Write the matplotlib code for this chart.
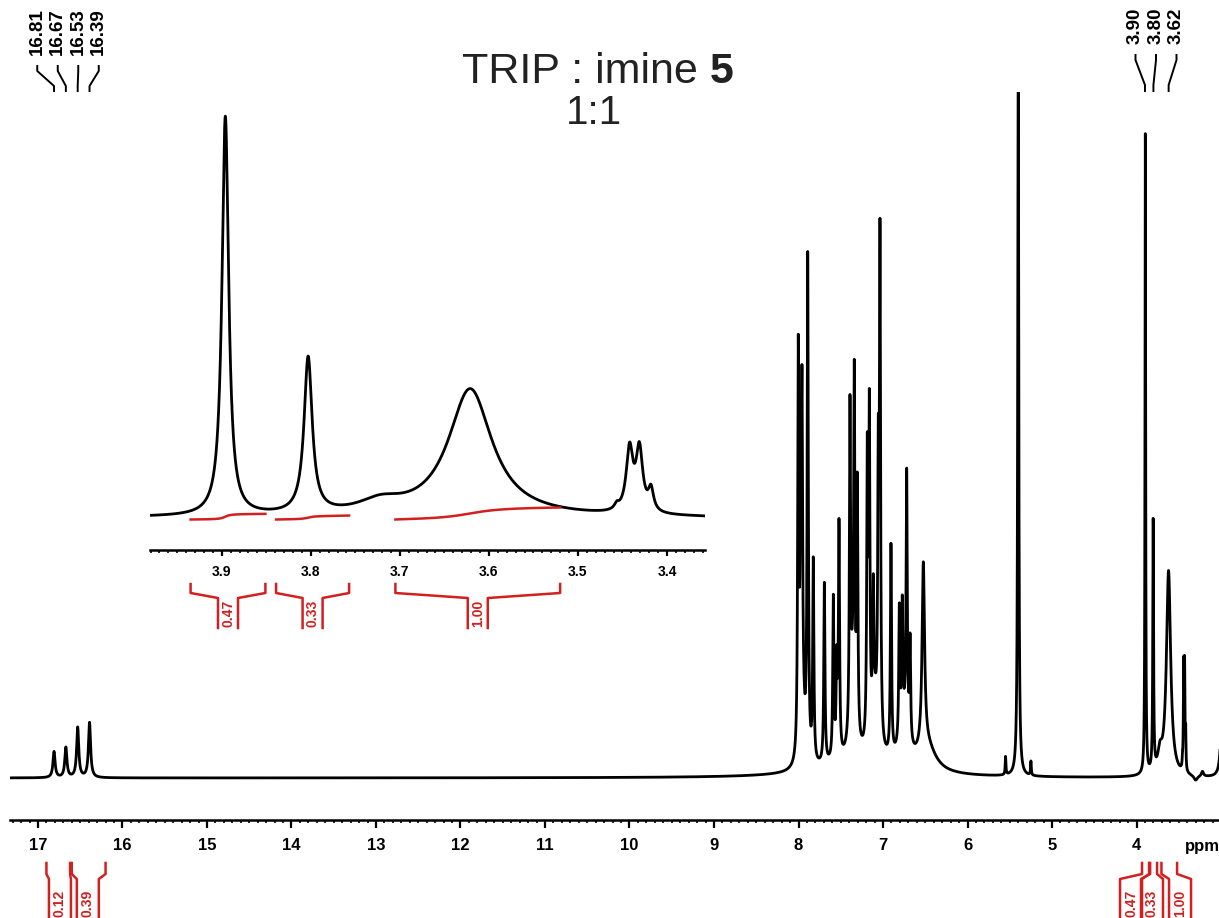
import numpy as np
import matplotlib
matplotlib.use("Agg")
import matplotlib.pyplot as plt
from matplotlib.lines import Line2D
from matplotlib.transforms import IdentityTransform
from matplotlib.ticker import MultipleLocator, FormatStrFormatter

plt.rcParams["font.family"] = ["Liberation Sans", "DejaVu Sans"]

W, H = 1219, 918
RED = "#d21f1f"

# 1H lines: shift (ppm), height (px over baseline), FWHM (ppm)
peak_ppm = [16.81, 16.67, 16.53, 16.39,
            8.003, 7.974, 7.959, 7.891, 7.825, 7.694, 7.588, 7.548, 7.521,
            7.391, 7.340, 7.304, 7.186, 7.162, 7.115, 7.056, 7.036,
            6.906, 6.807, 6.772, 6.720, 6.680, 6.523,
            7.95, 7.36, 7.10, 6.75, 7.30, 6.48,
            5.55, 5.40, 5.25,
            3.896, 3.803, 3.722, 3.621, 3.4565, 3.442, 3.431, 3.418,
            3.30, 3.22, 2.99]
peak_height = [26, 30, 50, 55,
               400, 230, 290, 500, 200, 180, 160, 90, 230,
               320, 330, 250, 280, 320, 120, 250, 490,
               210, 130, 120, 255, 100, 185,
               50, 70, 50, 40, 15, 25,
               18, 760, 14,
               640, 250, 19, 205, 8, 100, 100, 35,
               -5, 5, 60]
peak_fwhm = [0.03, 0.03, 0.03, 0.03,
             0.016, 0.016, 0.016, 0.016, 0.016, 0.016, 0.016, 0.016, 0.016,
             0.016, 0.016, 0.016, 0.016, 0.016, 0.016, 0.016, 0.016,
             0.016, 0.016, 0.016, 0.016, 0.016, 0.035,
             0.05, 0.06, 0.08, 0.12, 1.0, 0.25,
             0.01, 0.014, 0.01,
             0.009, 0.011, 0.06, 0.06, 0.006, 0.009, 0.009, 0.007,
             0.05, 0.03, 0.04]

# peak picking labels
left_labels = ["16.81", "16.67", "16.53", "16.39"]
right_labels = ["3.90", "3.80", "3.62"]

# integrals (ppm range and value)
int_start = [16.90, 16.60, 3.935, 3.839, 3.705]
int_end = [16.62, 16.20, 3.851, 3.757, 3.520]
int_value = [0.12, 0.39, 0.47, 0.33, 1.00]
int_label_ppm = [16.74, 16.41, 4.065, 3.817, 3.485]

inset_scale = 401 / 643


def lorentz(x, x0, h, w):
    g = 0.5 * w
    return h * g * g / ((x - x0) ** 2 + g * g)


def spectrum(x):
    y = np.zeros_like(x)
    for p, h, w in zip(peak_ppm, peak_height, peak_fwhm):
        y += lorentz(x, p, h, w)
    return y


def px(ax, p):
    return ax.transData.transform((p, 0))[0]


def pline(xs, ys, **kw):
    fig.add_artist(Line2D(xs, [H - y for y in ys], transform=IdentityTransform(), **kw))


def ptext(x, y, s, **kw):
    return fig.text(x, H - y, s, transform=IdentityTransform(), **kw)


def bracket(x_hi, x_lo, xc, half, ys, text, fs, ty):
    y_top, y_bend, y_inner, y_bot = ys
    for xe, xi in ((x_hi, xc - half), (x_lo, xc + half)):
        pline([xe, xe, xi, xi], [y_top, y_bend, y_inner, y_bot], color=RED, lw=1.8,
              solid_joinstyle="round")
    ptext(xc, ty, "%.2f" % text, rotation=90, ha="center", va="center", color=RED,
          fontsize=fs, fontweight="bold")


fig = plt.figure(figsize=(W / 100, H / 100), dpi=100)

# main spectrum
ax = fig.add_axes([10 / W, 1 - 820 / H, 1 - 10 / W, (820 - 92) / H])
x = np.linspace(17.4, 2.95, 30000)
ax.plot(x, spectrum(x), color="k", lw=2.0)
ax.set_xlim(17.331, 3.024)
ax.set_ylim(-42, 686)
for s in ("left", "right", "top"):
    ax.spines[s].set_visible(False)
ax.spines["bottom"].set_linewidth(1.8)
ax.set_yticks([])
ax.xaxis.set_major_locator(MultipleLocator(1))
ax.xaxis.set_minor_locator(MultipleLocator(0.1))
ax.xaxis.set_major_formatter(FormatStrFormatter("%d"))
ax.tick_params(axis="x", which="major", length=6, width=1.6, pad=7, labelsize=12)
ax.tick_params(axis="x", which="minor", length=2.2, width=1.2)
for lab in ax.get_xticklabels():
    lab.set_fontweight("bold")
ptext(1202, 846, "ppm", ha="center", va="center", fontsize=12, fontweight="bold")

# inset 3.98 - 3.36 ppm
ins = fig.add_axes([150 / W, 1 - 550 / H, 555 / W, (550 - 110) / H])
ins.set_facecolor("none")
xi = np.linspace(3.99, 3.35, 8000)
ins.plot(xi, spectrum(xi), color="k", lw=2.0)
ins.set_xlim(3.9806, 3.3573)
ins.set_ylim(-32 / inset_scale, 408 / inset_scale)
for s in ("left", "right", "top"):
    ins.spines[s].set_visible(False)
ins.spines["bottom"].set_linewidth(1.8)
ins.set_yticks([])
ins.xaxis.set_major_locator(MultipleLocator(0.1))
ins.xaxis.set_minor_locator(MultipleLocator(0.01))
ins.xaxis.set_major_formatter(FormatStrFormatter("%.1f"))
ins.tick_params(axis="x", which="major", length=4.5, width=1.6, pad=6, labelsize=10)
ins.tick_params(axis="x", which="minor", length=2, width=1.2)
for lab in ins.get_xticklabels():
    lab.set_fontweight("bold")

# integral curves inside the inset
for a, b, v in zip(int_start[2:], int_end[2:], int_value[2:]):
    xr = np.linspace(a, b, 400)
    cum = np.cumsum(spectrum(xr))
    cum = cum / cum[-1]
    ins.plot(xr, (-1.5 + 12 * v * cum) / inset_scale, color=RED, lw=1.8)

fig.canvas.draw()

# integral brackets below the inset axis
for a, b, v in zip(int_start[2:], int_end[2:], int_value[2:]):
    xa, xb = px(ins, a), px(ins, b)
    bracket(xa, xb, 0.5 * (xa + xb), 10, (584, 593, 598, 628), v, 10, 613)

# integral brackets below the main axis
for a, b, v, c in zip(int_start, int_end, int_value, int_label_ppm):
    bracket(px(ax, a), px(ax, b), px(ax, c), 11, (863, 874, 879, 940), v, 10, 903)

# peak labels with leader lines
groups = [(left_labels, 68, (66, 71, 86, 91)), (right_labels, 1156, (55, 60, 85, 91))]
for labels, c, ly in groups:
    pk = [px(ax, float(s)) for s in labels]
    n = len(labels)
    for i, s in enumerate(labels):
        lx = c + (i - (n - 1) / 2) * 20.5
        ptext(lx, 8, s, rotation=90, ha="center", va="top", fontsize=13.5,
              fontweight="bold")
        pline([lx, lx, pk[i], pk[i]], list(ly), color="k", lw=1.4)

# title
t = ptext(462, 83, "TRIP : imine", fontsize=31, ha="left", va="baseline",
          color="#222222")
ax.annotate("5", xy=(1, 0), xycoords=t, xytext=(8.6, 0), textcoords="offset points",
            ha="left", va="bottom", fontsize=31, fontweight="bold", color="#222222",
            annotation_clip=False)
ptext(594, 124, "1:1", fontsize=29, ha="center", va="baseline", color="#222222")

fig.savefig("out.png", dpi=100)
